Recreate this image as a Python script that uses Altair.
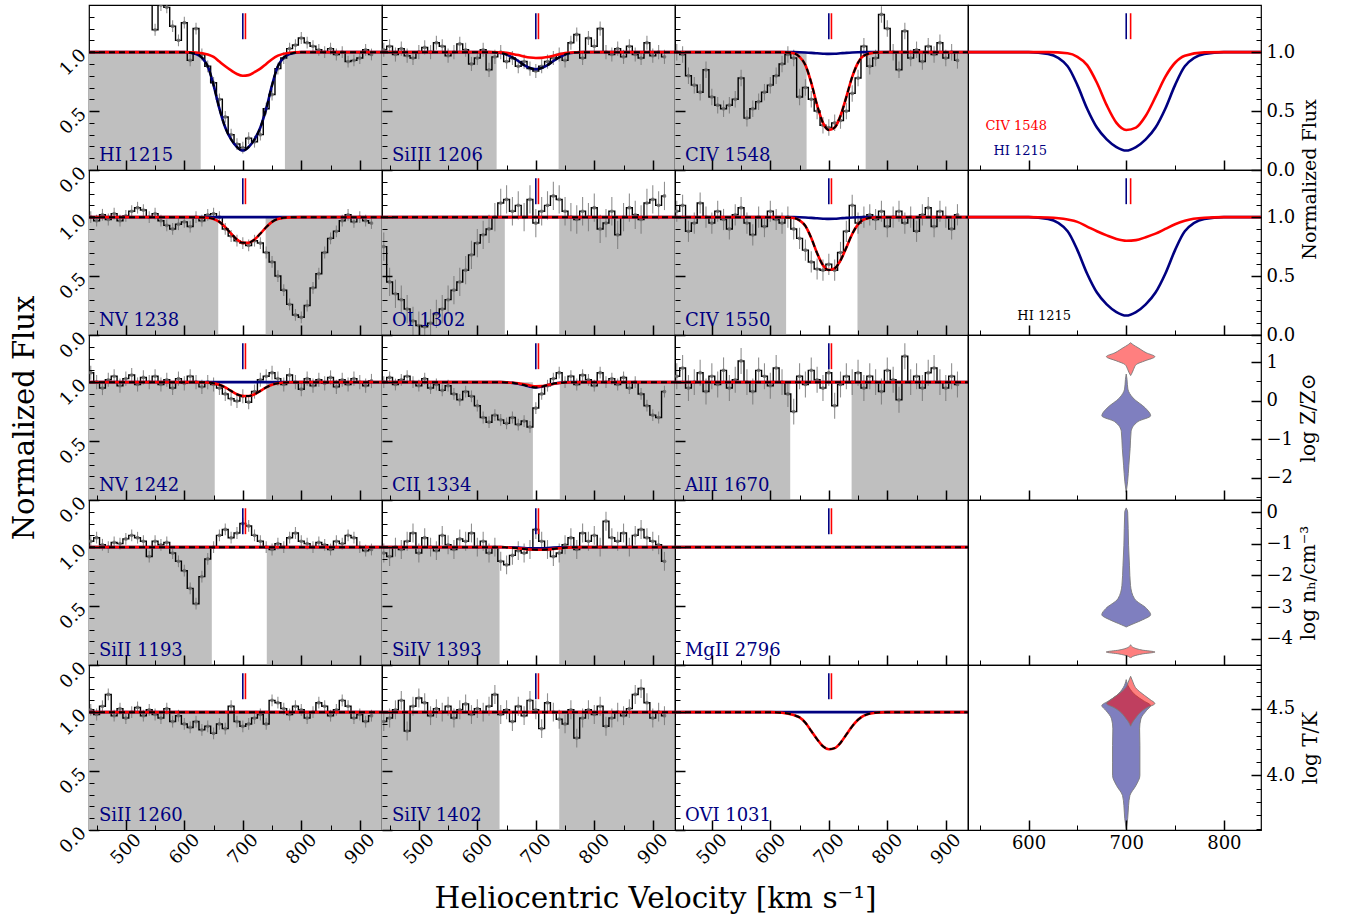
import altair as alt
import pandas as pd

FONT = "DejaVu Serif"
NAVY = "#000080"
RED = "#ff0000"
SHADE = "#bfbfbf"
W, H = 293, 165
XD = [437, 938]
XD4 = [538, 838]
FD = [0, 1.4]

XMAJ = [500, 600, 700, 800, 900]
XMIN = [450, 550, 650, 750, 850]
XMAJ4 = [600, 700, 800]
XMIN4 = [550, 650, 750]
FMAJ = [0.0, 0.5, 1.0]
FMIN = [0.1, 0.2, 0.3, 0.4, 0.6, 0.7, 0.8, 0.9, 1.1, 1.2, 1.3]

VEL = [440, 450, 460, 470, 480, 490, 500, 510, 520, 530,
       540, 550, 560, 570, 580, 590, 600, 610, 620, 630,
       640, 650, 660, 670, 680, 690, 700, 710, 720, 730,
       740, 750, 760, 770, 780, 790, 800, 810, 820, 830,
       840, 850, 860, 870, 880, 890, 900, 910, 920]

F_HI1215 = [1.60, 1.55, 1.60, 1.50, 1.55, 1.60, 1.50, 1.55, 1.50, 1.45,
            1.45, 1.19, 1.40, 1.38, 1.22, 1.10, 1.25, 0.93, 1.20, 0.98,
            0.88, 0.74, 0.60, 0.45, 0.30, 0.22, 0.19, 0.27, 0.24, 0.30,
            0.52, 0.64, 0.86, 0.95, 1.03, 1.06, 1.12, 1.08, 1.05, 1.02,
            1.00, 1.03, 0.98, 1.00, 0.92, 0.93, 0.95, 1.02, 0.98]
F_SIIII = [1.02, 1.05, 0.98, 1.03, 0.97, 0.95, 1.00, 1.04, 1.00, 1.08,
           1.05, 0.97, 1.00, 1.07, 1.02, 0.90, 0.95, 1.02, 0.85, 0.96,
           1.00, 0.92, 0.95, 0.88, 0.92, 0.86, 0.84, 0.88, 0.92, 0.95,
           0.98, 0.93, 1.08, 1.15, 0.95, 1.12, 1.05, 1.20, 1.00, 0.98,
           1.03, 0.96, 1.05, 0.98, 0.95, 1.08, 0.97, 1.00, 0.96]
F_CIV1548 = [1.00, 0.98, 0.80, 0.72, 0.66, 0.85, 0.62, 0.55, 0.52, 0.55,
             0.60, 0.78, 0.44, 0.52, 0.58, 0.66, 0.72, 0.80, 0.90, 0.98,
             0.95, 0.62, 0.70, 0.60, 0.50, 0.38, 0.36, 0.40, 0.42, 0.50,
             0.65, 0.78, 1.05, 0.88, 0.95, 1.32, 1.20, 1.00, 0.85, 1.18,
             0.95, 1.02, 0.92, 1.05, 0.98, 1.08, 0.95, 1.00, 0.93]
F_NV1238 = [1.00, 0.97, 1.02, 0.98, 1.03, 0.97, 1.01, 1.05, 1.08, 1.06,
            1.00, 1.03, 0.97, 0.93, 0.90, 0.94, 0.96, 0.92, 1.00, 0.97,
            1.02, 1.03, 1.00, 0.90, 0.84, 0.80, 0.78, 0.76, 0.80, 0.78,
            0.70, 0.62, 0.50, 0.38, 0.26, 0.17, 0.15, 0.25, 0.40, 0.52,
            0.70, 0.82, 0.88, 0.97, 1.02, 0.96, 1.00, 0.97, 0.95]
F_OI1302 = [0.75, 0.45, 0.35, 0.30, 0.22, 0.12, 0.08, 0.07, 0.10, 0.18,
            0.22, 0.30, 0.38, 0.45, 0.55, 0.68, 0.78, 0.85, 0.90, 1.00,
            1.12, 1.15, 1.05, 1.10, 1.00, 1.15, 0.95, 1.05, 1.10, 1.18,
            1.15, 1.05, 1.00, 0.98, 1.05, 1.00, 1.08, 0.90, 0.95, 1.05,
            0.85, 1.00, 1.08, 1.02, 0.98, 1.12, 1.15, 1.10, 1.18]
F_CIV1550 = [1.05, 1.10, 0.88, 0.95, 1.12, 1.00, 0.95, 1.05, 0.98, 0.90,
             1.02, 1.08, 0.95, 0.85, 1.00, 0.92, 1.05, 0.98, 0.95, 1.00,
             0.90, 0.82, 0.72, 0.62, 0.56, 0.55, 0.60, 0.55, 0.70, 0.88,
             1.10, 0.95, 1.00, 1.02, 0.98, 1.05, 0.92, 1.00, 1.05, 0.95,
             1.00, 0.88, 1.02, 1.08, 0.92, 1.05, 1.00, 0.90, 1.02]
F_NV1242 = [1.08, 1.00, 0.95, 1.02, 1.05, 0.97, 1.03, 1.06, 0.98, 1.04,
            1.00, 1.05, 0.98, 1.02, 0.95, 1.03, 0.99, 1.05, 1.00, 0.96,
            1.00, 0.98, 0.95, 0.90, 0.86, 0.84, 0.88, 0.83, 0.92, 1.02,
            1.05, 1.08, 1.03, 0.98, 1.06, 1.00, 0.94, 1.03, 0.97, 1.02,
            0.99, 1.04, 0.96, 1.02, 0.98, 1.03, 1.00, 0.97, 1.01]
F_CII1334 = [1.00, 1.04, 0.98, 1.02, 1.05, 1.00, 0.97, 1.03, 0.95, 0.98,
             0.93, 0.97, 0.90, 0.85, 0.92, 0.88, 0.80, 0.70, 0.66, 0.72,
             0.68, 0.65, 0.70, 0.64, 0.67, 0.62, 0.78, 0.90, 0.97, 1.03,
             1.08, 1.00, 1.05, 0.98, 1.06, 1.02, 0.97, 1.08, 1.00, 1.03,
             0.98, 1.04, 0.95, 1.00, 0.90, 0.80, 0.72, 0.70, 0.92]
F_ALII1670 = [1.05, 1.12, 0.95, 1.00, 1.08, 0.92, 1.05, 0.98, 1.10, 0.95,
              1.02, 1.18, 1.00, 0.92, 1.10, 1.05, 0.97, 1.12, 1.00, 0.90,
              0.75, 1.05, 0.98, 1.10, 1.02, 0.95, 1.08, 0.80, 0.98, 1.05,
              1.00, 1.08, 0.95, 1.05, 1.00, 0.92, 1.10, 1.02, 0.85, 1.22,
              1.00, 1.05, 0.95, 1.08, 1.12, 1.00, 0.95, 1.05, 0.98]
F_SIII1193 = [1.05, 1.08, 1.02, 1.00, 1.04, 1.03, 1.07, 1.10, 1.08, 1.05,
              0.92, 1.05, 1.02, 1.04, 0.95, 0.88, 0.80, 0.65, 0.52, 0.75,
              0.90, 1.00, 1.10, 1.15, 1.08, 1.12, 1.20, 1.18, 1.10, 1.05,
              1.00, 0.98, 1.03, 1.00, 1.08, 1.12, 1.05, 1.03, 1.00, 1.04,
              1.02, 0.98, 1.05, 1.03, 1.10, 1.08, 1.00, 0.97, 0.98]
F_SIIV1393 = [0.95, 0.92, 1.00, 0.98, 1.05, 1.12, 0.95, 1.08, 1.00, 0.97,
              1.10, 1.02, 0.98, 1.07, 1.05, 1.12, 1.00, 1.05, 0.95, 1.00,
              0.88, 0.85, 0.93, 0.97, 0.95, 0.98, 1.15, 1.05, 0.98, 0.92,
              0.95, 1.02, 1.08, 0.98, 1.12, 1.05, 1.10, 1.00, 1.22, 1.08,
              1.05, 1.12, 1.00, 1.10, 1.15, 1.08, 1.05, 1.02, 0.88]
F_SIII1260 = [1.02, 0.98, 1.05, 1.15, 0.97, 1.03, 0.95, 1.00, 1.04, 0.97,
              1.02, 0.98, 0.95, 1.03, 0.92, 0.97, 0.90, 0.87, 0.92, 0.85,
              0.88, 0.82, 0.90, 0.86, 1.05, 0.92, 0.88, 0.90, 0.95, 0.98,
              0.90, 1.10, 1.08, 1.03, 0.98, 1.05, 1.02, 0.95, 1.00, 1.08,
              1.05, 0.97, 1.02, 1.10, 1.05, 0.95, 0.98, 0.92, 0.97]
F_SIIV1402 = [0.92, 0.95, 1.02, 1.10, 0.84, 1.05, 1.12, 1.08, 0.97, 1.03,
              1.00, 1.05, 0.95, 1.02, 1.07, 0.98, 1.03, 1.00, 1.05, 1.15,
              0.98, 1.02, 0.92, 1.05, 0.97, 1.10, 1.02, 0.86, 1.08, 1.00,
              0.94, 0.90, 1.02, 0.78, 0.95, 1.02, 0.98, 1.05, 0.88, 0.95,
              1.00, 0.97, 1.03, 1.15, 1.20, 1.08, 0.95, 1.00, 0.97]

# model profiles sampled on MV
MV = [437, 560, 600, 620, 640, 650, 660, 670, 680, 690, 700, 710, 720, 730, 740, 750, 760, 780, 800, 840, 938]
M_FLAT = [1.0, 1.0, 1.0, 1.0, 1.0, 1.0, 1.0, 1.0, 1.0, 1.0, 1.0, 1.0, 1.0, 1.0, 1.0, 1.0, 1.0, 1.0, 1.0, 1.0, 1.0]
M_HI = [1.0, 1.0, 1.0, 0.985, 0.88, 0.72, 0.52, 0.36, 0.26, 0.195, 0.165, 0.195, 0.26, 0.36, 0.52, 0.72, 0.88, 0.985, 1.0, 1.0, 1.0]
M_RWEAK = [1.0, 1.0, 1.0, 0.997, 0.98, 0.96, 0.92, 0.88, 0.845, 0.815, 0.80, 0.805, 0.83, 0.86, 0.90, 0.94, 0.97, 0.995, 1.0, 1.0, 1.0]
M_C1548 = [1.0, 1.0, 1.0, 1.0, 0.99, 0.96, 0.89, 0.74, 0.55, 0.40, 0.34, 0.36, 0.46, 0.62, 0.79, 0.91, 0.97, 0.998, 1.0, 1.0, 1.0]
M_C1550 = [1.0, 1.0, 1.0, 1.0, 0.993, 0.973, 0.925, 0.823, 0.694, 0.592, 0.551, 0.565, 0.633, 0.742, 0.857, 0.939, 0.98, 0.999, 1.0, 1.0, 1.0]
M_TINY = [1.0, 1.0, 1.0, 1.0, 1.0, 0.999, 0.997, 0.994, 0.99, 0.987, 0.985, 0.986, 0.99, 0.994, 0.997, 0.999, 1.0, 1.0, 1.0, 1.0, 1.0]
M_SIIII_B = [1.0, 1.0, 1.0, 1.0, 0.993, 0.98, 0.955, 0.925, 0.89, 0.865, 0.855, 0.865, 0.89, 0.925, 0.955, 0.98, 0.993, 1.0, 1.0, 1.0, 1.0]
M_SIIII_R = [1.0, 1.0, 1.0, 1.0, 0.998, 0.994, 0.985, 0.975, 0.963, 0.954, 0.95, 0.951, 0.958, 0.97, 0.982, 0.992, 0.997, 1.0, 1.0, 1.0, 1.0]
M_NV1238 = [1.0, 1.0, 1.0, 1.0, 0.995, 0.985, 0.96, 0.915, 0.86, 0.81, 0.782, 0.782, 0.81, 0.86, 0.915, 0.96, 0.985, 0.998, 1.0, 1.0, 1.0]
M_NV1242 = [1.0, 1.0, 1.0, 1.0, 0.997, 0.99, 0.978, 0.955, 0.925, 0.897, 0.882, 0.882, 0.897, 0.925, 0.955, 0.978, 0.99, 0.999, 1.0, 1.0, 1.0]
M_CII_R = [1.0, 1.0, 1.0, 1.0, 1.0, 0.998, 0.995, 0.99, 0.982, 0.972, 0.965, 0.966, 0.975, 0.985, 0.993, 0.997, 0.999, 1.0, 1.0, 1.0, 1.0]
M_CII_B = [1.0, 1.0, 1.0, 1.0, 1.0, 0.998, 0.994, 0.987, 0.975, 0.962, 0.955, 0.962, 0.975, 0.987, 0.994, 0.998, 1.0, 1.0, 1.0, 1.0, 1.0]
M_SIIV_R = [1.0, 1.0, 1.0, 1.0, 1.0, 0.998, 0.995, 0.99, 0.985, 0.98, 0.978, 0.978, 0.98, 0.985, 0.99, 0.995, 0.998, 1.0, 1.0, 1.0, 1.0]
M_SIIV_B = [1.0, 1.0, 1.0, 1.0, 1.0, 0.999, 0.998, 0.996, 0.993, 0.991, 0.99, 0.991, 0.993, 0.996, 0.998, 0.999, 1.0, 1.0, 1.0, 1.0, 1.0]
M_OVI = [1.0, 1.0, 1.0, 0.995, 0.975, 0.955, 0.91, 0.84, 0.77, 0.71, 0.685, 0.695, 0.74, 0.81, 0.88, 0.935, 0.97, 0.995, 1.0, 1.0, 1.0]

COMP_V = [700, 704.5]
COMP_C = [NAVY, RED]
MARK_LO, MARK_HI = 1.11, 1.33
LABEL_V, LABEL_Y = 454, 0.075

# name, flux, error, unmasked window, blue model, red model, which model is dashed
SPECTRA = [
    ("HI 1215", F_HI1215, 0.05, [628, 772], M_HI, M_RWEAK, "b"),
    ("SiIII 1206", F_SIIII, 0.06, [633, 739], M_SIIII_B, M_SIIII_R, "b"),
    ("CIV 1548", F_CIV1548, 0.07, [662, 763], M_TINY, M_C1548, "r"),
    ("NV 1238", F_NV1238, 0.05, [658, 739], M_FLAT, M_NV1238, "r"),
    ("OI 1302", F_OI1302, 0.12, [647, 740], M_FLAT, M_FLAT, "r"),
    ("CIV 1550", F_CIV1550, 0.09, [627, 749], M_TINY, M_C1550, "r"),
    ("NV 1242", F_NV1242, 0.06, [652, 740], M_FLAT, M_NV1242, "r"),
    ("CII 1334", F_CII1334, 0.05, [695, 741], M_CII_B, M_CII_R, "b"),
    ("AlII 1670", F_ALII1670, 0.11, [634, 739], M_FLAT, M_FLAT, "r"),
    ("SiII 1193", F_SIII1193, 0.05, [647, 741], M_FLAT, M_FLAT, "r"),
    ("SiIV 1393", F_SIIV1393, 0.08, [638, 740], M_SIIV_B, M_SIIV_R, "r"),
    ("MgII 2796", None, 0.0, None, M_FLAT, M_FLAT, "r"),
    ("SiII 1260", F_SIII1260, 0.05, "all", M_FLAT, M_FLAT, "r"),
    ("SiIV 1402", F_SIIV1402, 0.08, [638, 740], M_FLAT, M_FLAT, "r"),
    ("OVI 1031", None, 0.0, None, M_FLAT, M_OVI, "r"),
]

# violins: (value, half width in km/s)
VZ_B_VAL = [0.69, 0.55, 0.30, 0.07, -0.19, -0.39, -0.54, -0.80, -1.24, -1.67, -2.10, -2.37]
VZ_B_HW = [0.0, 0.8, 1.7, 7.0, 19.6, 25.0, 12.0, 5.0, 4.0, 2.7, 1.4, 0.0]
VZ_R_VAL = [1.50, 1.45, 1.37, 1.24, 1.14, 1.03, 0.94, 0.81, 0.72, 0.65]
VZ_R_HW = [0.0, 2.5, 7.7, 16.0, 24.8, 14.5, 6.0, 3.0, 1.5, 0.0]
VN_B_VAL = [0.13, 0.0, -1.05, -1.68, -2.32, -2.74, -3.05, -3.24, -3.40, -3.52, -3.60, -3.63]
VN_B_HW = [0.0, 1.5, 2.4, 3.3, 4.4, 8.5, 21.0, 25.0, 17.0, 8.0, 2.0, 0.0]
VN_R_VAL = [-4.19, -4.28, -4.36, -4.42, -4.48, -4.55, -4.61]
VN_R_HW = [0.0, 3.0, 12.0, 25.0, 12.0, 3.0, 0.0]
VT_B_VAL = [4.72, 4.66, 4.60, 4.56, 4.525, 4.49, 4.425, 4.35, 4.225, 4.10, 4.00, 3.925, 3.85, 3.775, 3.675, 3.60]
VT_B_HW = [0.0, 3.0, 10.0, 18.0, 25.0, 21.0, 15.0, 13.7, 14.0, 14.0, 14.0, 10.0, 3.8, 2.4, 1.5, 0.0]
VT_R_VAL = [4.745, 4.70, 4.66, 4.60, 4.57, 4.54, 4.51, 4.48, 4.43, 4.40, 4.37]
VT_R_HW = [0.0, 2.5, 5.0, 14.5, 20.0, 24.8, 17.0, 11.0, 5.0, 2.0, 0.0]

VIOLINS = [
    dict(dom=[-2.57, 1.70], maj=[-2, -1, 0, 1], mnr=[-2.5, -1.5, -0.5, 0.5, 1.5], fmt="d",
         title="log Z/Z\u2299", blue=(VZ_B_VAL, VZ_B_HW), red=(VZ_R_VAL, VZ_R_HW)),
    dict(dom=[-4.83, 0.38], maj=[-4, -3, -2, -1, 0], mnr=[-4.5, -3.5, -2.5, -1.5, -0.5], fmt="d",
         title="log n\u2095/cm\u207b\u00b3", blue=(VN_B_VAL, VN_B_HW), red=(VN_R_VAL, VN_R_HW)),
    dict(dom=[3.59, 4.83], maj=[4.0, 4.5], mnr=[3.6, 3.7, 3.8, 3.9, 4.1, 4.2, 4.3, 4.4, 4.6, 4.7, 4.8], fmt=".1f",
         title="log T/K", blue=(VT_B_VAL, VT_B_HW), red=(VT_R_VAL, VT_R_HW)),
]


def sc(dom):
    return alt.Scale(domain=dom, nice=False, zero=False)


def axis_layer(ch, xdom, ydom, vals, size, width, orient, **kw):
    df = pd.DataFrame({"ax": [(xdom[0] + xdom[1]) / 2.0], "ay": [(ydom[0] + ydom[1]) / 2.0]})
    opts = dict(orient=orient, values=vals, tickSize=size, offset=-size, tickWidth=width,
                tickColor="black", domain=False, grid=False, zindex=3, labels=False, title=None)
    opts.update(kw)
    axis = alt.Axis(**opts)
    if ch == "x":
        enc = dict(x=alt.X("ax:Q", scale=sc(xdom), axis=axis), y=alt.Y("ay:Q", scale=sc(ydom), axis=None))
    else:
        enc = dict(x=alt.X("ax:Q", scale=sc(xdom), axis=None), y=alt.Y("ay:Q", scale=sc(ydom), axis=axis))
    return alt.Chart(df).mark_point(opacity=0).encode(**enc)


XLAB_ROT = dict(labels=True, labelAngle=315, labelAlign="center", labelBaseline="middle",
                labelPadding=19, format="d", labelFontSize=18, labelFlush=False, labelOverlap=False)
XLAB_FLAT = dict(labels=True, labelAngle=0, labelAlign="center", labelBaseline="top",
                 labelPadding=4, format="d", labelFontSize=18, labelFlush=False, labelOverlap=False)
YLAB_LEFT = dict(labels=True, labelAngle=315, labelAlign="right", labelBaseline="middle",
                 labelPadding=6, format=".1f", labelFontSize=18, labelFlush=False, labelOverlap=False)


def ylab_right(fmt):
    return dict(labels=True, labelAlign="left", labelBaseline="middle", labelPadding=5, format=fmt,
                labelFontSize=18, labelFlush=False, labelOverlap=False)


def marker_layer(xs, ys):
    kdf = pd.DataFrame({"v": COMP_V, "lo": [MARK_LO, MARK_LO], "hi": [MARK_HI, MARK_HI], "c": COMP_C})
    return alt.Chart(kdf).mark_rule(strokeWidth=1.6).encode(
        x=alt.X("v:Q", scale=xs, axis=None), y=alt.Y("lo:Q", scale=ys, axis=None), y2="hi",
        color=alt.Color("c:N", scale=None))


def model_layers(xs, ys, blue, red, dash):
    mdf = pd.DataFrame({"v": MV, "b": blue, "r": red})
    specs = [("b", NAVY, 2.6, None), ("r", RED, 2.6, None)]
    if dash:
        specs.append((dash, "black", 2.0, [6, 4]))
    out = []
    for field, color, w, dsh in specs:
        kw = dict(interpolate="monotone", color=color, strokeWidth=w, clip=True)
        if dsh:
            kw["strokeDash"] = dsh
        out.append(alt.Chart(mdf).mark_line(**kw).encode(
            x=alt.X("v:Q", scale=xs, axis=None), y=alt.Y(field + ":Q", scale=ys, axis=None)))
    return out


def spectral_panel(idx, row, col):
    name, flux, err, win, blue, red, dash = SPECTRA[idx]
    xs, ys = sc(XD), sc(FD)
    layers = []
    if win is not None:
        if win == "all":
            a, b = [XD[0]], [XD[1]]
        else:
            a, b = [XD[0], win[1]], [win[0], XD[1]]
        gdf = pd.DataFrame({"a": a, "b": b, "lo": [0.0] * len(a), "hi": [1.0] * len(a)})
        layers.append(alt.Chart(gdf).mark_rect(color=SHADE, strokeWidth=0).encode(
            x=alt.X("a:Q", scale=xs, axis=None), x2="b",
            y=alt.Y("lo:Q", scale=ys, axis=None), y2="hi"))
    if flux is not None:
        sdf = pd.DataFrame({"v": VEL, "f": flux})
        sdf["lo"] = sdf["f"] - err
        sdf["hi"] = sdf["f"] + err
        X = alt.X("v:Q", scale=xs, axis=None)
        layers.append(alt.Chart(sdf).mark_rule(color="#747474", strokeWidth=1.1, opacity=0.8, clip=True).encode(
            x=X, y=alt.Y("lo:Q", scale=ys, axis=None), y2="hi"))
        layers.append(alt.Chart(sdf).mark_line(interpolate="step", color="black", strokeWidth=1.4, clip=True).encode(
            x=X, y=alt.Y("f:Q", scale=ys, axis=None)))
        layers.append(alt.Chart(sdf).mark_circle(size=14, color="#6e6e6e", opacity=0.9, clip=True).encode(
            x=X, y=alt.Y("f:Q", scale=ys, axis=None)))
    layers += model_layers(xs, ys, blue, red, dash)
    layers.append(marker_layer(xs, ys))
    tdf = pd.DataFrame({"v": [LABEL_V], "y": [LABEL_Y], "t": [name]})
    layers.append(alt.Chart(tdf).mark_text(align="left", baseline="alphabetic", font=FONT, fontSize=18,
                                           color=NAVY).encode(
        x=alt.X("v:Q", scale=xs, axis=None), y=alt.Y("y:Q", scale=ys, axis=None), text="t:N"))
    xlab = {}
    if row == 4:
        xlab = dict(XLAB_ROT)
        if col == 1:
            xlab.update(title="Heliocentric Velocity [km s\u207b\u00b9]", titleFontSize=29.5,
                        titleX=273, titleY=64, titleBaseline="top", titleFontWeight="normal")
    ylab = {}
    if col == 0:
        ylab = dict(YLAB_LEFT)
        if row == 2:
            ylab.update(title="Normalized Flux", titleFontSize=29, titlePadding=17, titleFontWeight="normal")
    layers += [axis_layer("x", XD, FD, XMAJ, 10, 1.5, "bottom", **xlab),
               axis_layer("x", XD, FD, XMIN, 5, 1, "bottom"),
               axis_layer("y", XD, FD, FMAJ, 10, 1.5, "left", **ylab),
               axis_layer("y", XD, FD, FMIN, 5, 1, "left")]
    return alt.layer(*layers).resolve_axis(x="independent", y="independent").properties(width=W, height=H)


def model_panel(row):
    xs, ys = sc(XD4), sc(FD)
    red = M_C1548 if row == 0 else M_RWEAK
    layers = model_layers(xs, ys, M_HI, red, None)
    layers.append(marker_layer(xs, ys))
    if row == 0:
        tdf = pd.DataFrame({"v": [619, 619], "y": [0.37, 0.16], "t": ["CIV 1548", "HI 1215"], "c": [RED, NAVY]})
        layers.append(alt.Chart(tdf).mark_text(align="right", baseline="middle", font=FONT, fontSize=13).encode(
            x=alt.X("v:Q", scale=xs, axis=None), y=alt.Y("y:Q", scale=ys, axis=None), text="t:N",
            color=alt.Color("c:N", scale=None)))
    else:
        tdf = pd.DataFrame({"v": [616], "y": [0.16], "t": ["HI 1215"]})
        layers.append(alt.Chart(tdf).mark_text(align="center", baseline="middle", font=FONT, fontSize=13,
                                               color="black").encode(
            x=alt.X("v:Q", scale=xs, axis=None), y=alt.Y("y:Q", scale=ys, axis=None), text="t:N"))
    ylab = ylab_right(".1f")
    if row == 0:
        ylab.update(title="Normalized Flux", titleFontSize=19, titleAngle=270, titleBaseline="top",
                    titleY=174, titlePadding=6, titleFontWeight="normal")
    layers += [axis_layer("x", XD4, FD, XMAJ4, 10, 1.5, "bottom"),
               axis_layer("x", XD4, FD, XMIN4, 5, 1, "bottom"),
               axis_layer("y", XD4, FD, FMAJ, 10, 1.5, "right", **ylab),
               axis_layer("y", XD4, FD, FMIN, 5, 1, "right")]
    return alt.layer(*layers).resolve_axis(x="independent", y="independent").properties(width=W, height=H)


def violin_panel(k, row):
    cfg = VIOLINS[k]
    dom = cfg["dom"]
    xs, ys = sc(XD4), sc(dom)
    layers = []
    for key, center, color in [("blue", COMP_V[0], NAVY), ("red", COMP_V[1], RED)]:
        vals, hw = cfg[key]
        vdf = pd.DataFrame({"val": vals, "hw": hw})
        vdf["lft"] = center - vdf["hw"]
        vdf["rgt"] = center + vdf["hw"]
        layers.append(alt.Chart(vdf).mark_area(orient="horizontal", interpolate="monotone", color=color,
                                               fillOpacity=0.5, stroke="#7a7a7a", strokeWidth=1,
                                               strokeOpacity=0.9, clip=True).encode(
            y=alt.Y("val:Q", scale=ys, axis=None), x=alt.X("lft:Q", scale=xs, axis=None), x2="rgt"))
    xlab = dict(XLAB_FLAT) if row == 4 else {}
    ylab = ylab_right(cfg["fmt"])
    ylab.update(title=cfg["title"], titleFontSize=20, titleAngle=270, titleBaseline="top",
                titlePadding=6, titleFontWeight="normal")
    layers += [axis_layer("x", XD4, dom, XMAJ4, 10, 1.5, "bottom", **xlab),
               axis_layer("x", XD4, dom, XMIN4, 5, 1, "bottom"),
               axis_layer("y", XD4, dom, cfg["maj"], 10, 1.5, "right", **ylab),
               axis_layer("y", XD4, dom, cfg["mnr"], 5, 1, "right")]
    return alt.layer(*layers).resolve_axis(x="independent", y="independent").properties(width=W, height=H)


panels = []
for r in range(5):
    for c in range(3):
        panels.append(spectral_panel(r * 3 + c, r, c))
    if r < 2:
        panels.append(model_panel(r))
    else:
        panels.append(violin_panel(r - 2, r))

chart = alt.concat(*panels, columns=4, spacing=0, bounds="flush").properties(
    padding={"left": 9, "top": 4, "right": 5, "bottom": 5},
    background="white",
).configure_view(stroke="black", strokeWidth=1.2).configure_axis(
    labelFont=FONT, titleFont=FONT, labelColor="black", titleColor="black")

chart.save("out.html", embed_options={"renderer": "svg", "actions": False})
